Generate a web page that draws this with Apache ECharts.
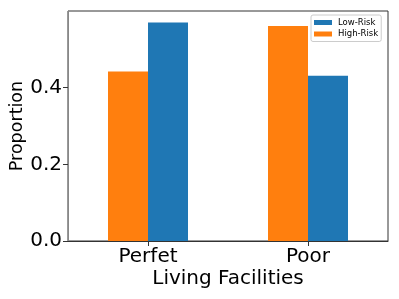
<!DOCTYPE html>
<html>
<head>
<meta charset="utf-8">
<script src="https://cdn.jsdelivr.net/npm/echarts@6/dist/echarts.min.js"></script>
<style>
html,body{margin:0;padding:0;background:#fff;}
#chart{width:399px;height:299px;}
</style>
</head>
<body>
<div id="chart"></div>
<script>
var categories = ['Perfet', 'Poor'];
var highRisk = [0.442, 0.561];
var lowRisk = [0.570, 0.431];
var seriesNames = ['High-Risk', 'Low-Risk'];
var legendOrder = ['Low-Risk', 'High-Risk'];
var yTicks = [0.0, 0.2, 0.4];
var xTitle = 'Living Facilities';
var yTitle = 'Proportion';

var FONT = 'DejaVu Sans';
var chart = echarts.init(document.getElementById('chart'), null, {renderer: 'canvas'});
chart.setOption({
  animation: false,
  backgroundColor: '#fff',
  textStyle: {fontFamily: FONT},
  grid: {left: 68, right: 11, top: 11, bottom: 58, containLabel: false, outerBoundsMode: 'none',
    show: true, borderColor: '#333', borderWidth: 1, backgroundColor: 'transparent'},
  legend: {
    data: legendOrder,
    orient: 'vertical',
    left: 311,
    top: 15,
    itemWidth: 18,
    itemHeight: 5,
    itemGap: 2.5,
    icon: 'rect',
    padding: [3, 3, 3, 3],
    backgroundColor: '#fff',
    borderColor: '#ccc',
    borderWidth: 1,
    borderRadius: 2,
    textStyle: {fontFamily: FONT, fontSize: 8.5, color: '#000', lineHeight: 9, padding: [0, 0, 0, 1]}
  },
  xAxis: {
    type: 'category',
    data: categories,
    name: xTitle,
    nameLocation: 'middle',
    nameGap: 28,
    nameMoveOverlap: false,
    nameTextStyle: {fontFamily: FONT, fontSize: 20, color: '#000'},
    axisLine: {show: true, lineStyle: {color: '#333', width: 1}},
    axisTick: {show: true, alignWithLabel: true, length: 5, lineStyle: {color: '#333'}},
    axisLabel: {fontFamily: FONT, fontSize: 20, color: '#000', margin: 6},
    splitLine: {show: false}
  },
  yAxis: {
    type: 'value',
    min: 0,
    max: 0.6,
    interval: 0.2,
    name: yTitle,
    nameLocation: 'middle',
    nameRotate: 90,
    nameGap: 42,
    nameMoveOverlap: false,
    nameTextStyle: {fontFamily: FONT, fontSize: 17.5, color: '#000'},
    axisLine: {show: true, lineStyle: {color: '#888', width: 1}},
    axisTick: {show: true, length: 5, lineStyle: {color: '#333'}, customValues: yTicks},
    axisLabel: {fontFamily: FONT, fontSize: 20, color: '#000', margin: 6, customValues: yTicks,
      formatter: function (v) { return v.toFixed(1); }},
    splitLine: {show: false}
  },
  series: [
    {name: seriesNames[0], type: 'bar', data: highRisk, barWidth: 40, barGap: '0%', itemStyle: {color: '#ff7f0e'}},
    {name: seriesNames[1], type: 'bar', data: lowRisk, barWidth: 40, barGap: '0%', itemStyle: {color: '#1f77b4'}}
  ]
});
</script>
</body>
</html>
